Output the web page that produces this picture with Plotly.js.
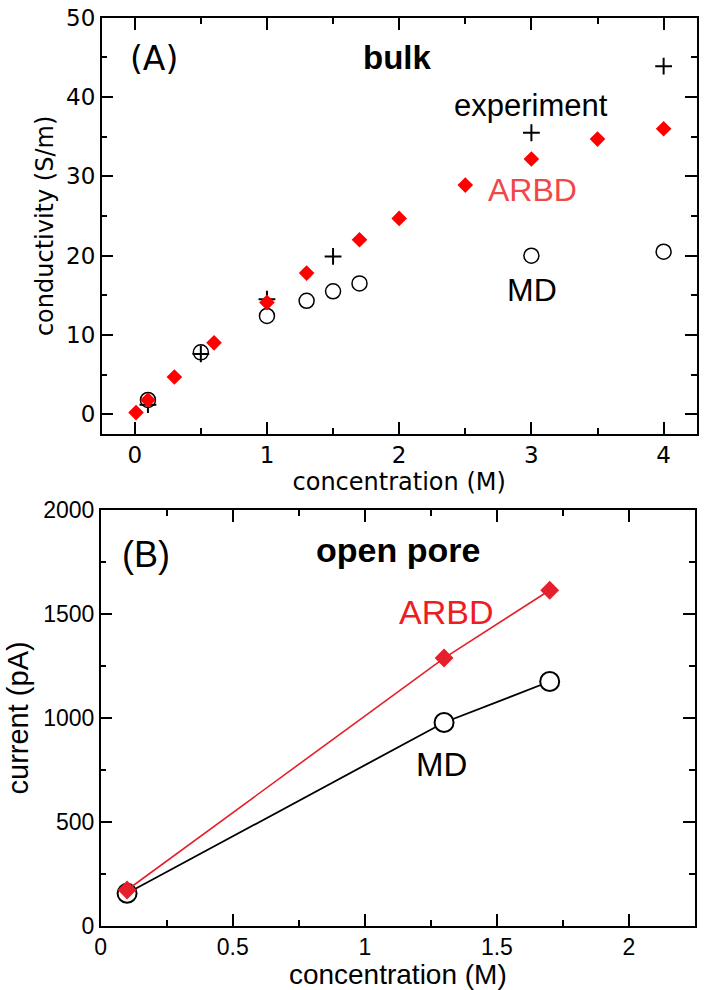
<!DOCTYPE html>
<html>
<head>
<meta charset="utf-8">
<script src="https://cdn.plot.ly/plotly-3.0.1.min.js"></script>
<style>html,body{margin:0;padding:0;background:#fff;}#chart{width:706px;height:990px;}.modebar-container{display:none !important;}</style>
</head>
<body>
<div id="chart"></div>
<script>
// Panel A: bulk conductivity (S/m) vs concentration (M)
const arbdBulkX = [0.01, 0.1, 0.3, 0.6, 1.0, 1.3, 1.7, 2.0, 2.5, 3.0, 3.5, 4.0];
const arbdBulkY = [0.2, 1.8, 4.7, 9.0, 14.1, 17.8, 22.0, 24.7, 28.9, 32.2, 34.7, 36.0];
const expX = [0.1, 0.5, 1.0, 1.5, 3.0, 4.0];
const expY = [1.2, 7.6, 14.5, 19.9, 35.5, 43.9];
const mdBulkX = [0.1, 0.5, 1.0, 1.3, 1.5, 1.7, 3.0, 4.0];
const mdBulkY = [1.8, 7.8, 12.4, 14.3, 15.5, 16.5, 20.0, 20.5];

// Panel B: open pore current (pA) vs concentration (M)
const poreX = [0.1, 1.3, 1.7];
const arbdPore = [172, 1288, 1614];
const mdPore = [156, 978, 1175];

const fontA = 'DejaVu Sans, sans-serif';
const fontB = 'Liberation Sans, Arial, sans-serif';

const traces = [
  {x: mdBulkX, y: mdBulkY, xaxis: 'x', yaxis: 'y', type: 'scatter', mode: 'markers',
   marker: {symbol: 'circle-open', size: 15, color: '#000', line: {color: '#000', width: 1.5}}},
  {x: expX, y: expY, xaxis: 'x', yaxis: 'y', type: 'scatter', mode: 'markers',
   marker: {symbol: 'cross-thin-open', size: 12, color: '#000', line: {color: '#000', width: 2}}},
  {x: arbdBulkX, y: arbdBulkY, xaxis: 'x', yaxis: 'y', type: 'scatter', mode: 'markers',
   marker: {symbol: 'diamond', size: 12, color: '#ff0000', line: {width: 0}}},
  {x: poreX, y: mdPore, xaxis: 'x2', yaxis: 'y2', type: 'scatter', mode: 'lines+markers',
   line: {color: '#000', width: 1.8},
   marker: {symbol: 'circle', size: 19, color: '#fff', line: {color: '#000', width: 2}}},
  {x: poreX, y: arbdPore, xaxis: 'x2', yaxis: 'y2', type: 'scatter', mode: 'lines+markers',
   line: {color: '#e5202a', width: 1.6},
   marker: {symbol: 'diamond', size: 14.5, color: '#e5202a', line: {width: 0}}}
];

const axesSpec = {
  xA: {range: [-0.25, 4.25], major: 1, minor: 0.5},
  yA: {range: [-2.5, 50], major: 10, minor: 5},
  xB: {range: [0, 2.25], major: 0.5, minor: 0.25},
  yB: {range: [0, 2000], major: 500, minor: 250}
};

function axis(extra, spec) {
  return Object.assign({
    range: spec.range, tick0: 0, dtick: spec.major,
    showline: true, linecolor: '#000', linewidth: 1.5, mirror: 'ticks',
    ticks: 'inside', ticklen: 12, tickwidth: 1.5, tickcolor: '#000',
    showgrid: false, zeroline: false,
    minor: {ticks: 'inside', ticklen: 6, tickwidth: 1.5, tickcolor: '#000', dtick: spec.minor}
  }, extra);
}

const layout = {
  width: 706, height: 990,
  margin: {l: 0, r: 0, t: 0, b: 0},
  showlegend: false,
  xaxis: axis({domain: [0.1440, 0.9868], anchor: 'y',
    tickfont: {family: fontA, size: 23, color: '#000'},
    title: {text: 'concentration (M)', font: {family: fontA, size: 24, color: '#000'}, standoff: 2}}, axesSpec.xA),
  yaxis: axis({domain: [0.5616, 0.9820], anchor: 'x',
    tickfont: {family: fontA, size: 23, color: '#000'},
    title: {text: 'conductivity (S/m)', font: {family: fontA, size: 24, color: '#000'}, standoff: 6}}, axesSpec.yA),
  xaxis2: axis({domain: [0.1426, 0.9844], anchor: 'y2',
    tickfont: {family: fontB, size: 23, color: '#000'},
    title: {text: 'concentration (M)', font: {family: fontB, size: 28, color: '#000'}, standoff: 0}}, axesSpec.xB),
  yaxis2: axis({domain: [0.0649, 0.4848], anchor: 'x2',
    tickfont: {family: fontB, size: 23, color: '#000'},
    title: {text: 'current (pA)', font: {family: fontB, size: 29, color: '#000'}, standoff: 6}}, axesSpec.yB),
  annotations: [
    {xref: 'x', yref: 'y', x: 0.146, y: 44.9, text: '(A)', showarrow: false,
     font: {family: fontA, size: 33, color: '#000'}},
    {xref: 'x', yref: 'y', x: 1.984, y: 45.0, text: '<b>bulk</b>', showarrow: false,
     font: {family: fontB, size: 33, color: '#000'}},
    {xref: 'x', yref: 'y', x: 2.994, y: 38.9, text: 'experiment', showarrow: false,
     font: {family: fontB, size: 31, color: '#000'}},
    {xref: 'x', yref: 'y', x: 3.005, y: 28.3, text: 'ARBD', showarrow: false,
     font: {family: fontB, size: 32, color: '#f04848'}},
    {xref: 'x', yref: 'y', x: 3.005, y: 15.7, text: 'MD', showarrow: false,
     font: {family: fontB, size: 32, color: '#000'}},
    {xref: 'x2', yref: 'y2', x: 0.171, y: 1786, text: '(B)', showarrow: false,
     font: {family: fontB, size: 36, color: '#000'}},
    {xref: 'x2', yref: 'y2', x: 1.127, y: 1810, text: '<b>open pore</b>', showarrow: false,
     font: {family: fontB, size: 34, color: '#000'}},
    {xref: 'x2', yref: 'y2', x: 1.307, y: 1510, text: 'ARBD', showarrow: false,
     font: {family: fontB, size: 34, color: '#ee1c24'}},
    {xref: 'x2', yref: 'y2', x: 1.292, y: 775, text: 'MD', showarrow: false,
     font: {family: fontB, size: 33, color: '#000'}}
  ]
};

Plotly.newPlot('chart', traces, layout);
</script>
</body>
</html>
